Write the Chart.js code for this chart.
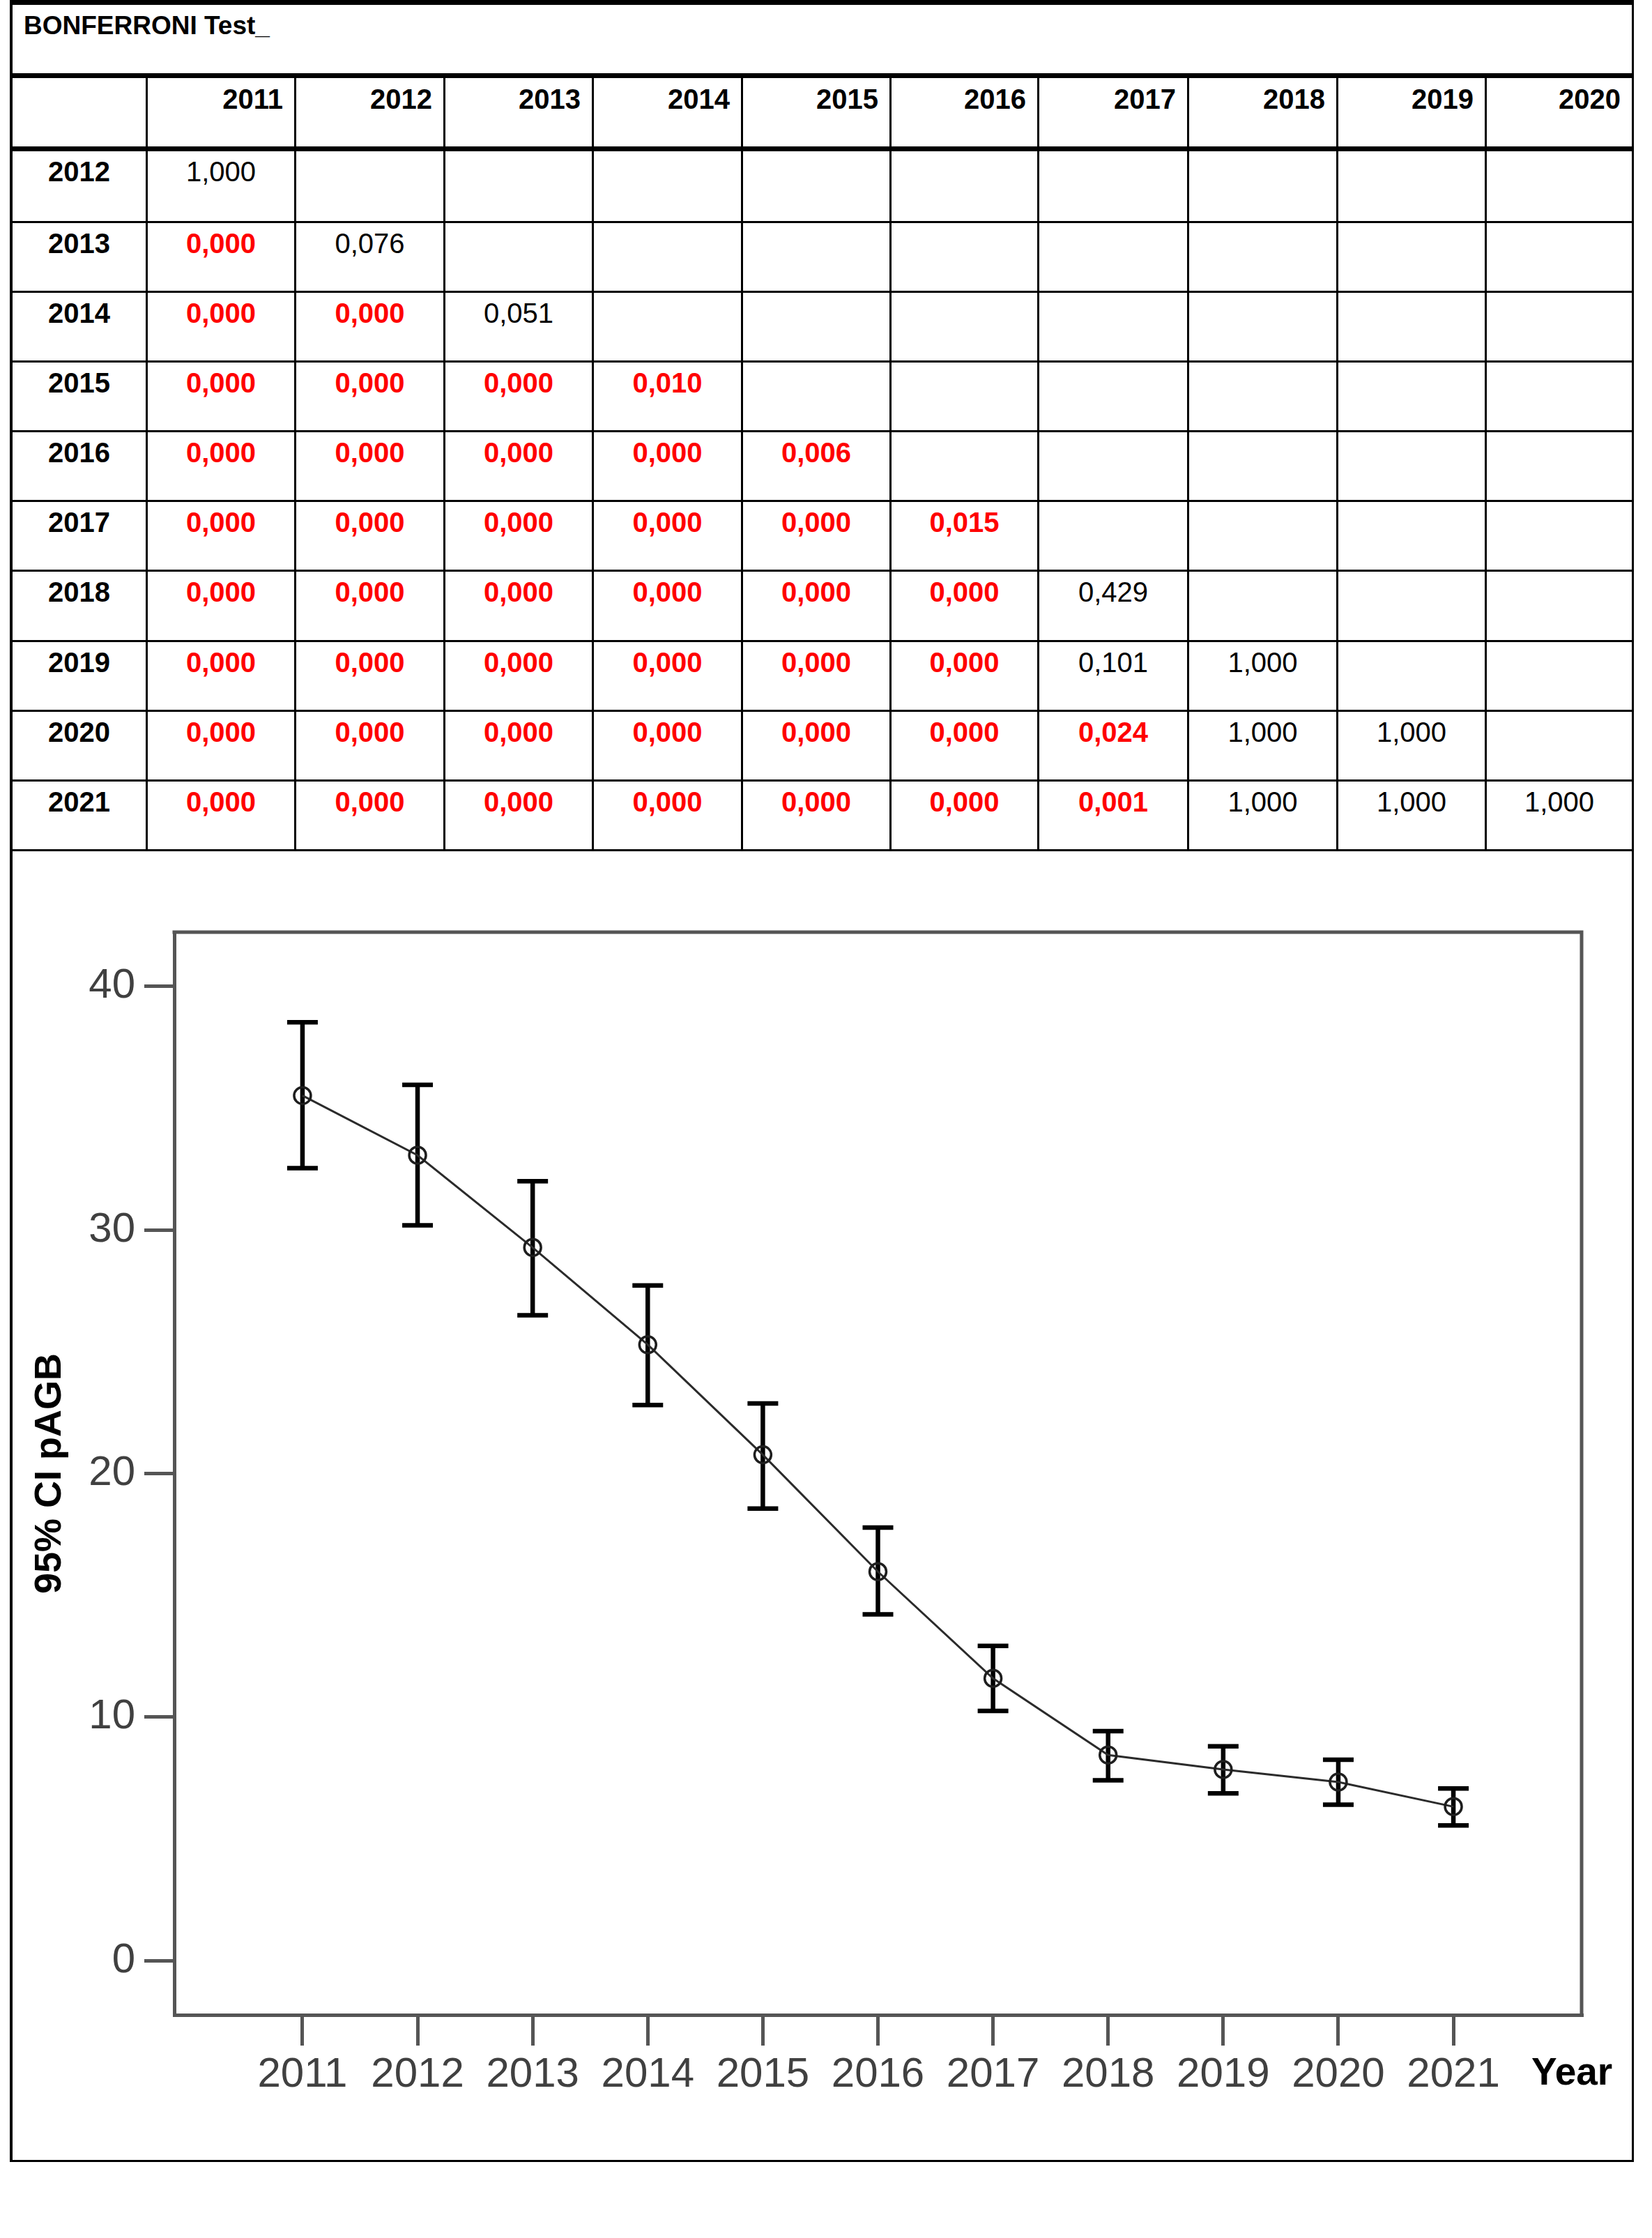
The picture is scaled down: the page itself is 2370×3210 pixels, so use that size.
<!DOCTYPE html>
<html>
<head>
<meta charset="utf-8">
<title>BONFERRONI Test - pAGB</title>
<script src="https://cdn.jsdelivr.net/npm/chart.js@4.4.1/dist/chart.umd.min.js"></script>
<style>
  body {
    margin: 0;
    background: #fff;
    width: 2370px;
    height: 3210px;
    position: relative;
    font-family: "Liberation Sans", Arial, sans-serif;
  }
  #pTable {
    position: absolute;
    left: 14px;
    top: 0;
    width: 2330px;
    box-sizing: border-box;
    border-left: 4px solid #000;
    border-top: 7px solid #000;
    display: grid;
    grid-template-columns: 194px 213px 214px 213px 214px 213px 212px 215px 214px 213px 211px;
    grid-template-rows: 105px 105px 103px repeat(9, 100.1px);
  }
  #pTable div {
    box-sizing: border-box;
    border-right: 3px solid #000;
    border-bottom: 3px solid #000;
    font-size: 40px;
    line-height: 48px;
    padding-top: 5px;
    overflow: hidden;
    white-space: nowrap;
  }
  #pTable .title {
    grid-column: 1 / span 11;
    border-bottom-width: 7px;
    font-size: 37px;
    line-height: 44px;
    font-weight: bold;
    padding: 8px 0 0 16px;
  }
  #pTable .head {
    border-bottom-width: 7px;
    font-weight: bold;
    text-align: right;
    padding: 6px 16px 0 0;
  }
  #pTable .rowhead { font-weight: bold; text-align: center; }
  #pTable .val { text-align: center; }
  #pTable .sig { color: #f00; font-weight: bold; }
  #chartBox {
    position: absolute;
    left: 14px;
    top: 1221px;
    width: 2330px;
    height: 1880px;
    box-sizing: border-box;
    border-left: 4px solid #000;
    border-right: 3px solid #000;
    border-bottom: 3px solid #000;
  }
  #chartBox canvas { position: absolute; left: 0; top: 0; }
  #yearLabel {
    position: absolute;
    left: 2197px;
    top: 2944px;
    font: bold 55px/55px "Liberation Sans", Arial, sans-serif;
    color: #000;
  }
</style>
</head>
<body>
<div id="pTable"></div>
<div id="chartBox"><canvas id="pagbChart" width="2323" height="1877"></canvas></div>
<div id="yearLabel">Year</div>

<script>
// Chart values
const years = [2011, 2012, 2013, 2014, 2015, 2016, 2017, 2018, 2019, 2020, 2021];
const meanPAGB = [35.52, 33.07, 29.28, 25.29, 20.77, 15.97, 11.59, 8.44, 7.85, 7.33, 6.32];
const upperCI = [38.53, 35.96, 32.0, 27.72, 22.88, 17.78, 12.92, 9.42, 8.8, 8.25, 7.07];
const lowerCI = [32.54, 30.19, 26.5, 22.81, 18.56, 14.22, 10.25, 7.4, 6.87, 6.4, 5.55];
const yTicks = [0, 10, 20, 30, 40];

// Bonferroni table
const colYears = [2011, 2012, 2013, 2014, 2015, 2016, 2017, 2018, 2019, 2020];
const rowYears = [2012, 2013, 2014, 2015, 2016, 2017, 2018, 2019, 2020, 2021];
const pValues = [
  [1.0],
  [0.0, 0.076],
  [0.0, 0.0, 0.051],
  [0.0, 0.0, 0.0, 0.01],
  [0.0, 0.0, 0.0, 0.0, 0.006],
  [0.0, 0.0, 0.0, 0.0, 0.0, 0.015],
  [0.0, 0.0, 0.0, 0.0, 0.0, 0.0, 0.429],
  [0.0, 0.0, 0.0, 0.0, 0.0, 0.0, 0.101, 1.0],
  [0.0, 0.0, 0.0, 0.0, 0.0, 0.0, 0.024, 1.0, 1.0],
  [0.0, 0.0, 0.0, 0.0, 0.0, 0.0, 0.001, 1.0, 1.0, 1.0],
];
const alpha = 0.05;

// build the table
const table = document.getElementById("pTable");
const addCell = (cls, text) => {
  const d = document.createElement("div");
  d.className = cls;
  d.textContent = text;
  table.appendChild(d);
};

addCell("title", "BONFERRONI Test_");
addCell("head", "");
colYears.forEach((y) => addCell("head", String(y)));
rowYears.forEach((ry, r) => {
  addCell("rowhead", String(ry));
  colYears.forEach((cy, c) => {
    const p = pValues[r][c];
    if (p === undefined) {
      addCell("val", "");
    } else {
      addCell(p < alpha ? "val sig" : "val", p.toFixed(3).replace(".", ","));
    }
  });
});

// chart
Chart.defaults.font.family = '"Liberation Sans", Arial, sans-serif';

const meanSet = {
  data: years.map((y, i) => ({ x: y, y: meanPAGB[i] })),
  borderColor: "#2b2b2b",
  borderWidth: 3,
  pointRadius: 12,
  pointBorderWidth: 3.5,
  pointBorderColor: "#1e1e1e",
  pointBackgroundColor: "rgba(255,255,255,0)",
  tension: 0,
};

// one small line per year: lower -> upper, caps drawn as 'line' points
const errorBarSets = years.map((y, i) => ({
  data: [
    { x: y, y: lowerCI[i] },
    { x: y, y: upperCI[i] },
  ],
  borderColor: "#000",
  borderWidth: 6.5,
  borderCapStyle: "butt",
  pointStyle: "line",
  pointRadius: 22,
  pointBorderWidth: 6.5,
  pointBorderColor: "#000",
}));

// top and right sides of the plot frame
const plotFrame = {
  id: "plotFrame",
  beforeDatasetsDraw(chart) {
    const { ctx, chartArea: a } = chart;
    ctx.save();
    ctx.strokeStyle = "#555";
    ctx.lineWidth = 5;
    ctx.lineCap = "square";
    ctx.beginPath();
    ctx.moveTo(a.left, a.top);
    ctx.lineTo(a.right, a.top);
    ctx.lineTo(a.right, a.bottom);
    ctx.stroke();
    ctx.restore();
  },
};

const axisGrid = (len) => ({
  drawOnChartArea: false,
  drawTicks: true,
  tickLength: len,
  tickWidth: 5,
  tickColor: "#555",
  lineWidth: 5,
  color: "#555",
});

new Chart(document.getElementById("pagbChart"), {
  type: "line",
  data: { datasets: [meanSet, ...errorBarSets] },
  options: {
    responsive: false,
    devicePixelRatio: 1,
    animation: false,
    events: [],
    layout: { padding: { top: 116, right: 72, bottom: 0, left: 0 } },
    plugins: {
      legend: { display: false },
      tooltip: { enabled: false },
    },
    scales: {
      x: {
        type: "linear",
        min: 2009.886,
        max: 2022.114,
        afterBuildTicks: (axis) => {
          axis.ticks = years.map((v) => ({ value: v }));
        },
        afterFit: (axis) => {
          axis.height = 208;
        },
        grid: axisGrid(44),
        border: { display: true, color: "#555", width: 5 },
        ticks: {
          color: "#404040",
          font: { size: 60 },
          padding: 6,
          maxRotation: 0,
          autoSkip: false,
          callback: (v) => String(v),
        },
      },
      y: {
        type: "linear",
        min: -2.23,
        max: 42.23,
        afterBuildTicks: (axis) => {
          axis.ticks = yTicks.map((v) => ({ value: v }));
        },
        afterFit: (axis) => {
          axis.width = 232;
        },
        grid: axisGrid(43),
        border: { display: true, color: "#555", width: 5 },
        ticks: {
          color: "#404040",
          font: { size: 60 },
          padding: 13,
          callback: (v) => String(v),
        },
        title: {
          display: true,
          text: "95% CI pAGB",
          color: "#000",
          font: { size: 54, weight: "bold" },
          padding: { top: 22, bottom: 0 },
        },
      },
    },
  },
  plugins: [plotFrame],
});
</script>
</body>
</html>
